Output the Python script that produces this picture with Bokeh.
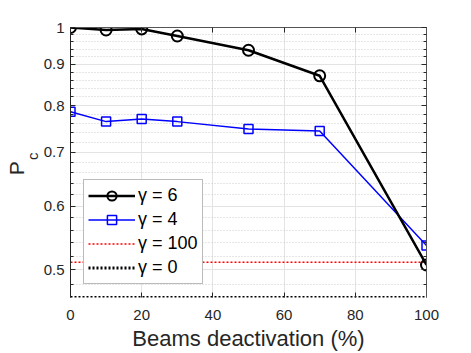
import numpy as np
from bokeh.plotting import figure
from bokeh.models import (Range1d, FixedTicker, LogAxis, LinearAxis, Legend,
                          LegendItem, CustomJSTickFormatter)
from bokeh.embed import file_html
from bokeh.resources import INLINE

# ---- data ----
x_beams = [0, 10, 20, 30, 50, 70, 100]
pc_gamma6 = [1.0, 0.993, 0.996, 0.976, 0.937, 0.871, 0.507]
pc_gamma4 = [0.786, 0.764, 0.770, 0.764, 0.748, 0.744, 0.536]
x_ref = [0, 100]
pc_gamma100 = [0.511, 0.511]
pc_gamma0 = [0.462, 0.462]

x_ticks = [0, 20, 40, 60, 80, 100]
y_ticks = [0.5, 0.6, 0.7, 0.8, 0.9, 1.0]
y_minor = [0.48, 0.52, 0.54, 0.56, 0.58, 0.62, 0.64, 0.66, 0.68, 0.72, 0.74, 0.76,
           0.78, 0.82, 0.84, 0.86, 0.88, 0.92, 0.94, 0.96, 0.98]
legend_labels = ["γ = 6", "γ = 4", "γ = 100", "γ = 0"]
x_label = "Beams deactivation (%)"
y_label_main = "P"
y_label_sub = "c"

FONT = "Liberation Sans"
AX = "#262626"
NB = "\u00a0"

p = figure(width=471, height=353, x_range=Range1d(0, 100), y_range=Range1d(0.462, 1.0),
           y_axis_type="log", output_backend="svg", toolbar_location=None,
           min_border_left=70, min_border_right=45, min_border_top=27, min_border_bottom=56)

yticker = FixedTicker(ticks=y_ticks, minor_ticks=y_minor)
xticker = FixedTicker(ticks=x_ticks)
fmt = CustomJSTickFormatter(code="return String(Number(tick.toFixed(2)));")
blank = CustomJSTickFormatter(code="return '';")
noticks = FixedTicker(ticks=[])

p.xaxis.ticker = xticker
p.yaxis.ticker = yticker
p.yaxis.formatter = fmt

for ax in (p.xaxis[0], p.yaxis[0]):
    ax.major_tick_in = 5
    ax.major_tick_out = 0
    ax.minor_tick_in = 3
    ax.minor_tick_out = 0
    ax.major_tick_line_color = AX
    ax.minor_tick_line_color = AX
    ax.axis_line_color = AX
    ax.major_label_text_font = FONT
    ax.major_label_text_font_size = "15px"
    ax.major_label_text_color = AX
p.xaxis.axis_line_color = None
p.xaxis.major_label_standoff = 12
p.yaxis.major_label_standoff = 6
p.xaxis.axis_label = x_label
p.xaxis.axis_label_text_font = FONT
p.xaxis.axis_label_text_font_size = "22px"
p.xaxis.axis_label_text_font_style = "normal"
p.xaxis.axis_label_text_color = AX
p.xaxis.axis_label_standoff = 3

# extra left axes carrying the "c" subscript and the "P" of the y label
ax_c = LogAxis(ticker=noticks, formatter=blank, axis_line_color=None,
               major_tick_line_color=None, minor_tick_line_color=None,
               axis_label=NB * 3 + y_label_sub,
               axis_label_text_font=FONT, axis_label_text_font_size="15px",
               axis_label_text_font_style="normal", axis_label_text_color=AX,
               axis_label_standoff=0, major_label_standoff=0)
p.add_layout(ax_c, "left")
ax_p = LogAxis(ticker=noticks, formatter=blank, axis_line_color=None,
               major_tick_line_color=None, minor_tick_line_color=None,
               axis_label=y_label_main + NB * 2,
               axis_label_text_font=FONT, axis_label_text_font_size="21px",
               axis_label_text_font_style="normal", axis_label_text_color=AX,
               axis_label_standoff=-7, major_label_standoff=0)
p.add_layout(ax_p, "left")

right = LogAxis(ticker=yticker, formatter=blank, major_tick_in=5,
                major_tick_out=0, minor_tick_in=3, minor_tick_out=0,
                axis_line_color="#555555", major_tick_line_color=AX,
                minor_tick_line_color=AX, major_label_standoff=0)
p.add_layout(right, "right")
top = LinearAxis(ticker=xticker, formatter=blank, major_tick_in=5,
                 major_tick_out=0, minor_tick_in=0, minor_tick_out=0,
                 axis_line_color="#555555", major_tick_line_color=AX,
                 major_label_standoff=0)
p.add_layout(top, "above")

p.xgrid.grid_line_color = "#e3e3e3"
p.ygrid.grid_line_color = "#e3e3e3"
p.ygrid.minor_grid_line_color = "#cccccc"
p.ygrid.minor_grid_line_dash = "1 2"
p.outline_line_color = None

r100 = p.line(x_ref, pc_gamma100, line_color="red", line_dash="2 2", line_width=1.5)
r0 = p.line(x_ref, pc_gamma0, line_color="black", line_dash="2 2", line_width=3)
r4l = p.line(x_beams, pc_gamma4, line_color="blue", line_width=1.5)
r4s = p.scatter(x_beams, pc_gamma4, marker="square", size=9, fill_color=None,
                line_color="blue", line_width=1.5)
r6l = p.line(x_beams, pc_gamma6, line_color="black", line_width=2.5)
r6s = p.scatter(x_beams, pc_gamma6, marker="circle", size=11, fill_color=None,
                line_color="black", line_width=2)

legend = Legend(items=[LegendItem(label=legend_labels[0], renderers=[r6l, r6s]),
                       LegendItem(label=legend_labels[1], renderers=[r4l, r4s]),
                       LegendItem(label=legend_labels[2], renderers=[r100]),
                       LegendItem(label=legend_labels[3], renderers=[r0])],
                location=(13, 13), label_text_font=FONT, label_text_font_size="18px",
                label_text_color="black", glyph_width=47, glyph_height=23,
                label_height=23, label_standoff=3, spacing=1, padding=4, margin=0,
                border_line_color="#777777", border_line_width=1.5,
                background_fill_alpha=1.0)
p.add_layout(legend)

open("out.html", "w").write(file_html(p, INLINE))
